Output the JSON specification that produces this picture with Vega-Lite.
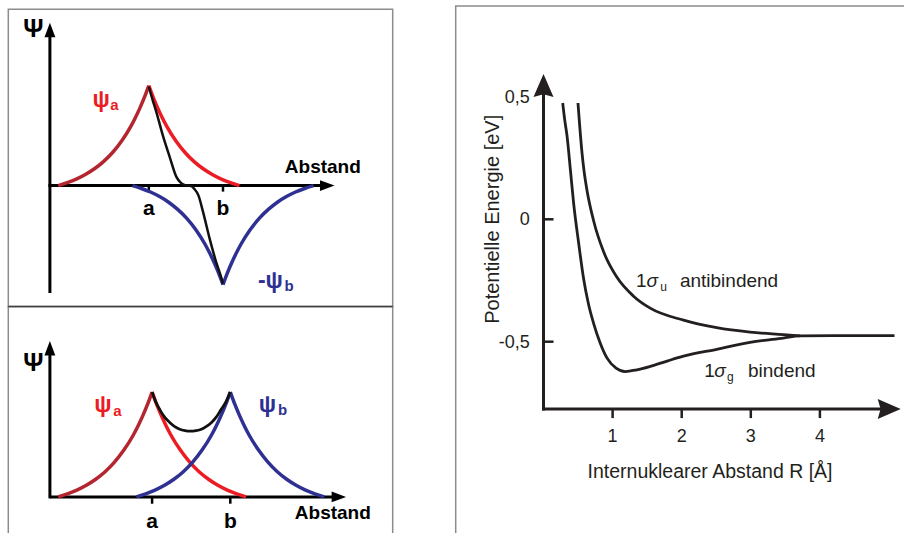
{
  "$schema": "https://vega.github.io/schema/vega-lite/v6.json",
  "padding": 0,
  "background": "white",
  "spacing": 20,
  "config": {"view": {"stroke": null}, "font": "Liberation Sans"},
  "resolve": {"scale": {"x": "independent", "y": "independent", "color": "independent"}},
  "datasets": {
    "top_psi": [
      {"curve": "ψa links", "x": 1, "y": 1}, {"curve": "ψa links", "x": 0.939, "y": 0.879}, {"curve": "ψa links", "x": 0.878, "y": 0.772}, {"curve": "ψa links", "x": 0.817, "y": 0.676}, {"curve": "ψa links", "x": 0.756, "y": 0.59}, {"curve": "ψa links", "x": 0.634, "y": 0.446}, {"curve": "ψa links", "x": 0.512, "y": 0.331}, {"curve": "ψa links", "x": 0.389, "y": 0.24}, {"curve": "ψa links", "x": 0.267, "y": 0.168}, {"curve": "ψa links", "x": 0.145, "y": 0.111}, {"curve": "ψa links", "x": 0.023, "y": 0.065}, {"curve": "ψa links", "x": -0.099, "y": 0.029}, {"curve": "ψa links", "x": -0.221, "y": 0},
      {"curve": "ψa rechts", "x": 1, "y": 1}, {"curve": "ψa rechts", "x": 1.061, "y": 0.879}, {"curve": "ψa rechts", "x": 1.122, "y": 0.772}, {"curve": "ψa rechts", "x": 1.183, "y": 0.676}, {"curve": "ψa rechts", "x": 1.244, "y": 0.59}, {"curve": "ψa rechts", "x": 1.366, "y": 0.446}, {"curve": "ψa rechts", "x": 1.488, "y": 0.331}, {"curve": "ψa rechts", "x": 1.611, "y": 0.24}, {"curve": "ψa rechts", "x": 1.733, "y": 0.168}, {"curve": "ψa rechts", "x": 1.855, "y": 0.111}, {"curve": "ψa rechts", "x": 1.977, "y": 0.065}, {"curve": "ψa rechts", "x": 2.099, "y": 0.029}, {"curve": "ψa rechts", "x": 2.221, "y": 0},
      {"curve": "ψb links", "x": 2, "y": -0.99}, {"curve": "ψb links", "x": 1.939, "y": -0.87}, {"curve": "ψb links", "x": 1.878, "y": -0.764}, {"curve": "ψb links", "x": 1.817, "y": -0.669}, {"curve": "ψb links", "x": 1.756, "y": -0.584}, {"curve": "ψb links", "x": 1.634, "y": -0.442}, {"curve": "ψb links", "x": 1.512, "y": -0.328}, {"curve": "ψb links", "x": 1.389, "y": -0.238}, {"curve": "ψb links", "x": 1.267, "y": -0.166}, {"curve": "ψb links", "x": 1.145, "y": -0.11}, {"curve": "ψb links", "x": 1.023, "y": -0.064}, {"curve": "ψb links", "x": 0.901, "y": -0.029}, {"curve": "ψb links", "x": 0.779, "y": 0},
      {"curve": "ψb rechts", "x": 2, "y": -0.99}, {"curve": "ψb rechts", "x": 2.061, "y": -0.87}, {"curve": "ψb rechts", "x": 2.122, "y": -0.764}, {"curve": "ψb rechts", "x": 2.183, "y": -0.669}, {"curve": "ψb rechts", "x": 2.244, "y": -0.584}, {"curve": "ψb rechts", "x": 2.366, "y": -0.442}, {"curve": "ψb rechts", "x": 2.488, "y": -0.328}, {"curve": "ψb rechts", "x": 2.611, "y": -0.238}, {"curve": "ψb rechts", "x": 2.733, "y": -0.166}, {"curve": "ψb rechts", "x": 2.855, "y": -0.11}, {"curve": "ψb rechts", "x": 2.977, "y": -0.064}, {"curve": "ψb rechts", "x": 3.099, "y": -0.029}, {"curve": "ψb rechts", "x": 3.221, "y": 0}
    ],
    "top_sum": [
      {"x": 1.0, "y": 0.99}, {"x": 1.05, "y": 0.86}, {"x": 1.1, "y": 0.74}, {"x": 1.19, "y": 0.5}, {"x": 1.28, "y": 0.29}, {"x": 1.37, "y": 0.09}, {"x": 1.43, "y": 0.03}, {"x": 1.47, "y": 0.01}, {"x": 1.52, "y": 0.0}, {"x": 1.57, "y": -0.005}, {"x": 1.61, "y": -0.03}, {"x": 1.67, "y": -0.1}, {"x": 1.73, "y": -0.26}, {"x": 1.82, "y": -0.53}, {"x": 1.91, "y": -0.77}, {"x": 1.96, "y": -0.88}, {"x": 2.0, "y": -0.98}
    ],
    "bot_psi": [
      {"curve": "ψa links", "x": 1, "y": 1}, {"curve": "ψa links", "x": 0.94, "y": 0.879}, {"curve": "ψa links", "x": 0.88, "y": 0.772}, {"curve": "ψa links", "x": 0.82, "y": 0.676}, {"curve": "ψa links", "x": 0.76, "y": 0.59}, {"curve": "ψa links", "x": 0.639, "y": 0.446}, {"curve": "ψa links", "x": 0.519, "y": 0.331}, {"curve": "ψa links", "x": 0.399, "y": 0.24}, {"curve": "ψa links", "x": 0.279, "y": 0.168}, {"curve": "ψa links", "x": 0.159, "y": 0.111}, {"curve": "ψa links", "x": 0.038, "y": 0.065}, {"curve": "ψa links", "x": -0.082, "y": 0.029}, {"curve": "ψa links", "x": -0.202, "y": 0},
      {"curve": "ψa rechts", "x": 1, "y": 1}, {"curve": "ψa rechts", "x": 1.06, "y": 0.879}, {"curve": "ψa rechts", "x": 1.12, "y": 0.772}, {"curve": "ψa rechts", "x": 1.18, "y": 0.676}, {"curve": "ψa rechts", "x": 1.24, "y": 0.59}, {"curve": "ψa rechts", "x": 1.361, "y": 0.446}, {"curve": "ψa rechts", "x": 1.481, "y": 0.331}, {"curve": "ψa rechts", "x": 1.601, "y": 0.24}, {"curve": "ψa rechts", "x": 1.721, "y": 0.168}, {"curve": "ψa rechts", "x": 1.841, "y": 0.111}, {"curve": "ψa rechts", "x": 1.962, "y": 0.065}, {"curve": "ψa rechts", "x": 2.082, "y": 0.029}, {"curve": "ψa rechts", "x": 2.202, "y": 0},
      {"curve": "ψb links", "x": 2, "y": 1}, {"curve": "ψb links", "x": 1.94, "y": 0.879}, {"curve": "ψb links", "x": 1.88, "y": 0.772}, {"curve": "ψb links", "x": 1.82, "y": 0.676}, {"curve": "ψb links", "x": 1.76, "y": 0.59}, {"curve": "ψb links", "x": 1.639, "y": 0.446}, {"curve": "ψb links", "x": 1.519, "y": 0.331}, {"curve": "ψb links", "x": 1.399, "y": 0.24}, {"curve": "ψb links", "x": 1.279, "y": 0.168}, {"curve": "ψb links", "x": 1.159, "y": 0.111}, {"curve": "ψb links", "x": 1.038, "y": 0.065}, {"curve": "ψb links", "x": 0.918, "y": 0.029}, {"curve": "ψb links", "x": 0.798, "y": 0},
      {"curve": "ψb rechts", "x": 2, "y": 1}, {"curve": "ψb rechts", "x": 2.06, "y": 0.879}, {"curve": "ψb rechts", "x": 2.12, "y": 0.772}, {"curve": "ψb rechts", "x": 2.18, "y": 0.676}, {"curve": "ψb rechts", "x": 2.24, "y": 0.59}, {"curve": "ψb rechts", "x": 2.361, "y": 0.446}, {"curve": "ψb rechts", "x": 2.481, "y": 0.331}, {"curve": "ψb rechts", "x": 2.601, "y": 0.24}, {"curve": "ψb rechts", "x": 2.721, "y": 0.168}, {"curve": "ψb rechts", "x": 2.841, "y": 0.111}, {"curve": "ψb rechts", "x": 2.962, "y": 0.065}, {"curve": "ψb rechts", "x": 3.082, "y": 0.029}, {"curve": "ψb rechts", "x": 3.202, "y": 0}
    ],
    "bot_sum": [
      {"x": 1.0, "y": 1.0}, {"x": 1.05, "y": 0.9}, {"x": 1.1, "y": 0.83}, {"x": 1.16, "y": 0.76}, {"x": 1.225, "y": 0.71}, {"x": 1.29, "y": 0.67}, {"x": 1.353, "y": 0.645}, {"x": 1.42, "y": 0.632}, {"x": 1.49, "y": 0.627}, {"x": 1.56, "y": 0.632}, {"x": 1.63, "y": 0.645}, {"x": 1.69, "y": 0.67}, {"x": 1.76, "y": 0.71}, {"x": 1.82, "y": 0.76}, {"x": 1.88, "y": 0.83}, {"x": 1.94, "y": 0.9}, {"x": 2.0, "y": 1.0}
    ],
    "ab": [{"pos": 1, "label": "a"}, {"pos": 2, "label": "b"}],
    "mo": [
      {"curve": "1σg", "x": 0.278, "y": 0.475}, {"curve": "1σg", "x": 0.31, "y": 0.4}, {"curve": "1σg", "x": 0.34, "y": 0.342}, {"curve": "1σg", "x": 0.39, "y": 0.2}, {"curve": "1σg", "x": 0.437, "y": 0.063}, {"curve": "1σg", "x": 0.51, "y": -0.1}, {"curve": "1σg", "x": 0.581, "y": -0.244}, {"curve": "1σg", "x": 0.65, "y": -0.345}, {"curve": "1σg", "x": 0.726, "y": -0.426}, {"curve": "1σg", "x": 0.82, "y": -0.505}, {"curve": "1σg", "x": 0.918, "y": -0.566}, {"curve": "1σg", "x": 1.05, "y": -0.608}, {"curve": "1σg", "x": 1.183, "y": -0.622}, {"curve": "1σg", "x": 1.35, "y": -0.615}, {"curve": "1σg", "x": 1.544, "y": -0.601}, {"curve": "1σg", "x": 1.8, "y": -0.578}, {"curve": "1σg", "x": 2.026, "y": -0.559}, {"curve": "1σg", "x": 2.507, "y": -0.531}, {"curve": "1σg", "x": 2.989, "y": -0.503}, {"curve": "1σg", "x": 3.47, "y": -0.485}, {"curve": "1σg", "x": 3.711, "y": -0.476}, {"curve": "1σg", "x": 4.2, "y": -0.475}, {"curve": "1σg", "x": 5.08, "y": -0.475},
      {"curve": "1σu", "x": 0.499, "y": 0.475}, {"curve": "1σu", "x": 0.527, "y": 0.37}, {"curve": "1σu", "x": 0.557, "y": 0.272}, {"curve": "1σu", "x": 0.59, "y": 0.19}, {"curve": "1σu", "x": 0.629, "y": 0.119}, {"curve": "1σu", "x": 0.726, "y": -0.007}, {"curve": "1σu", "x": 0.87, "y": -0.133}, {"curve": "1σu", "x": 1.063, "y": -0.237}, {"curve": "1σu", "x": 1.303, "y": -0.314}, {"curve": "1σu", "x": 1.544, "y": -0.363}, {"curve": "1σu", "x": 2.026, "y": -0.412}, {"curve": "1σu", "x": 2.507, "y": -0.443}, {"curve": "1σu", "x": 2.989, "y": -0.461}, {"curve": "1σu", "x": 3.47, "y": -0.471}, {"curve": "1σu", "x": 3.711, "y": -0.476}
    ],
    "xticks": [{"v": 1, "label": "1"}, {"v": 2, "label": "2"}, {"v": 3, "label": "3"}, {"v": 4, "label": "4"}],
    "yticks": [{"v": 0.5, "label": "0,5"}, {"v": 0, "label": "0"}, {"v": -0.5, "label": "-0,5"}]
  },
  "hconcat": [
    {
      "bounds": "flush",
      "spacing": 0,
      "resolve": {"scale": {"x": "independent", "y": "independent", "color": "independent"}},
      "vconcat": [
        {
          "width": 420, "height": 306,
          "data": {"values": [{}]},
          "layer": [
            {"mark": {"type": "rect", "filled": false, "color": "#8c8c8c", "strokeWidth": 1.5},
             "encoding": {"x": {"datum": -0.8935, "type": "quantitative", "scale": {"domain": [-1.00539, 4.65499], "nice": false, "zero": false}, "axis": null}, "x2": {"datum": 4.287},
                          "y": {"datum": 1.763, "type": "quantitative", "scale": {"domain": [-1.204, 1.856], "nice": false, "zero": false}, "axis": null}, "y2": {"datum": -1.209}}},
            {"mark": {"type": "rule", "color": "black", "strokeWidth": 3},
             "encoding": {"x": {"datum": -0.3329, "type": "quantitative", "scale": {"domain": [-1.00539, 4.65499], "nice": false, "zero": false}, "axis": null},
                          "y": {"datum": -1.073, "type": "quantitative", "scale": {"domain": [-1.204, 1.856], "nice": false, "zero": false}, "axis": null}, "y2": {"datum": 1.5565}}},
            {"mark": {"type": "rule", "color": "black", "strokeWidth": 3},
             "encoding": {"x": {"datum": -0.353, "type": "quantitative", "scale": {"domain": [-1.00539, 4.65499], "nice": false, "zero": false}, "axis": null}, "x2": {"datum": 3.405},
                          "y": {"datum": 0, "type": "quantitative", "scale": {"domain": [-1.204, 1.856], "nice": false, "zero": false}, "axis": null}}},
            {"mark": {"type": "point", "shape": "M0,-1L0.75,1L-0.75,1Z", "filled": true, "color": "black", "opacity": 1, "size": 210},
             "encoding": {"x": {"datum": -0.3329, "type": "quantitative", "scale": {"domain": [-1.00539, 4.65499], "nice": false, "zero": false}, "axis": null},
                          "y": {"datum": 1.5565, "type": "quantitative", "scale": {"domain": [-1.204, 1.856], "nice": false, "zero": false}, "axis": null}}},
            {"mark": {"type": "point", "shape": "M1,0L-1,-0.75L-1,0.75Z", "filled": true, "color": "black", "opacity": 1, "size": 210},
             "encoding": {"x": {"datum": 3.405, "type": "quantitative", "scale": {"domain": [-1.00539, 4.65499], "nice": false, "zero": false}, "axis": null},
                          "y": {"datum": 0, "type": "quantitative", "scale": {"domain": [-1.204, 1.856], "nice": false, "zero": false}, "axis": null}}},
            {"data": {"name": "ab"}, "mark": {"type": "rule", "color": "black", "strokeWidth": 2.5},
             "encoding": {"x": {"field": "pos", "type": "quantitative", "scale": {"domain": [-1.00539, 4.65499], "nice": false, "zero": false}, "axis": null},
                          "y": {"datum": 0, "type": "quantitative", "scale": {"domain": [-1.204, 1.856], "nice": false, "zero": false}, "axis": null}, "y2": {"datum": -0.06}}},
            {"data": {"name": "ab"}, "mark": {"type": "text", "fontWeight": "bold", "fontSize": 21, "color": "black", "align": "center", "baseline": "middle"},
             "encoding": {"x": {"field": "pos", "type": "quantitative", "scale": {"domain": [-1.00539, 4.65499], "nice": false, "zero": false}, "axis": null},
                          "y": {"datum": -0.234, "type": "quantitative", "scale": {"domain": [-1.204, 1.856], "nice": false, "zero": false}, "axis": null}, "text": {"field": "label"}}},
            {"data": {"name": "top_psi"}, "mark": {"type": "line", "strokeWidth": 3.5, "interpolate": "monotone"},
             "encoding": {"x": {"field": "x", "type": "quantitative", "scale": {"domain": [-1.00539, 4.65499], "nice": false, "zero": false}, "axis": null},
                          "y": {"field": "y", "type": "quantitative", "scale": {"domain": [-1.204, 1.856], "nice": false, "zero": false}, "axis": null},
                          "color": {"field": "curve", "type": "nominal", "scale": {"domain": ["ψa links", "ψa rechts", "ψb links", "ψb rechts"], "range": ["#b3262f", "#ec1c24", "#2e3192", "#2e3192"]}, "legend": null}}},
            {"data": {"name": "top_sum"}, "mark": {"type": "line", "strokeWidth": 2.5, "color": "#111111", "interpolate": "monotone"},
             "encoding": {"x": {"field": "x", "type": "quantitative", "scale": {"domain": [-1.00539, 4.65499], "nice": false, "zero": false}, "axis": null},
                          "y": {"field": "y", "type": "quantitative", "scale": {"domain": [-1.204, 1.856], "nice": false, "zero": false}, "axis": null}}},
            {"mark": {"type": "text", "text": "Ψ", "fontWeight": "bold", "fontSize": 25, "color": "black", "align": "center", "baseline": "middle"},
             "encoding": {"x": {"datum": -0.5566, "type": "quantitative", "scale": {"domain": [-1.00539, 4.65499], "nice": false, "zero": false}, "axis": null},
                          "y": {"datum": 1.564, "type": "quantitative", "scale": {"domain": [-1.204, 1.856], "nice": false, "zero": false}, "axis": null}}},
            {"mark": {"type": "text", "text": "Abstand", "fontWeight": "bold", "fontSize": 19, "color": "black", "align": "center", "baseline": "middle"},
             "encoding": {"x": {"datum": 3.345, "type": "quantitative", "scale": {"domain": [-1.00539, 4.65499], "nice": false, "zero": false}, "axis": null},
                          "y": {"datum": 0.187, "type": "quantitative", "scale": {"domain": [-1.204, 1.856], "nice": false, "zero": false}, "axis": null}}},
            {"mark": {"type": "text", "text": "ψ", "fontWeight": "bold", "fontSize": 23, "color": "#ec1c24", "align": "right", "baseline": "middle"},
             "encoding": {"x": {"datum": 0.4744, "type": "quantitative", "scale": {"domain": [-1.00539, 4.65499], "nice": false, "zero": false}, "axis": null},
                          "y": {"datum": 0.861, "type": "quantitative", "scale": {"domain": [-1.204, 1.856], "nice": false, "zero": false}, "axis": null}}},
            {"mark": {"type": "text", "text": "a", "fontWeight": "bold", "fontSize": 15, "color": "#ec1c24", "align": "left", "baseline": "middle"},
             "encoding": {"x": {"datum": 0.48, "type": "quantitative", "scale": {"domain": [-1.00539, 4.65499], "nice": false, "zero": false}, "axis": null},
                          "y": {"datum": 0.809, "type": "quantitative", "scale": {"domain": [-1.204, 1.856], "nice": false, "zero": false}, "axis": null}}},
            {"mark": {"type": "text", "text": "-ψ", "fontWeight": "bold", "fontSize": 23, "color": "#2e3192", "align": "right", "baseline": "middle"},
             "encoding": {"x": {"datum": 2.807, "type": "quantitative", "scale": {"domain": [-1.00539, 4.65499], "nice": false, "zero": false}, "axis": null},
                          "y": {"datum": -0.954, "type": "quantitative", "scale": {"domain": [-1.204, 1.856], "nice": false, "zero": false}, "axis": null}}},
            {"mark": {"type": "text", "text": "b", "fontWeight": "bold", "fontSize": 15, "color": "#2e3192", "align": "left", "baseline": "middle"},
             "encoding": {"x": {"datum": 2.829, "type": "quantitative", "scale": {"domain": [-1.00539, 4.65499], "nice": false, "zero": false}, "axis": null},
                          "y": {"datum": -1.005, "type": "quantitative", "scale": {"domain": [-1.204, 1.856], "nice": false, "zero": false}, "axis": null}}}
          ]
        },
        {
          "width": 420, "height": 227,
          "data": {"values": [{}]},
          "layer": [
            {"mark": {"type": "rect", "filled": false, "color": "#8c8c8c", "strokeWidth": 1.5, "clip": true},
             "encoding": {"x": {"datum": -0.8389, "type": "quantitative", "scale": {"domain": [-0.94501, 4.42583], "nice": false, "zero": false}, "axis": null}, "x2": {"datum": 4.0767},
                          "y": {"datum": 1.815, "type": "quantitative", "scale": {"domain": [-0.34414, 1.81983], "nice": false, "zero": false}, "axis": null}, "y2": {"datum": -1}}},
            {"mark": {"type": "rule", "color": "#404040", "strokeWidth": 1.5},
             "encoding": {"x": {"datum": -0.8389, "type": "quantitative", "scale": {"domain": [-0.94501, 4.42583], "nice": false, "zero": false}, "axis": null}, "x2": {"datum": 4.0767},
                          "y": {"datum": 1.815, "type": "quantitative", "scale": {"domain": [-0.34414, 1.81983], "nice": false, "zero": false}, "axis": null}}},
            {"mark": {"type": "rule", "color": "black", "strokeWidth": 3},
             "encoding": {"x": {"datum": -0.3069, "type": "quantitative", "scale": {"domain": [-0.94501, 4.42583], "nice": false, "zero": false}, "axis": null},
                          "y": {"datum": -0.014, "type": "quantitative", "scale": {"domain": [-0.34414, 1.81983], "nice": false, "zero": false}, "axis": null}, "y2": {"datum": 1.418}}},
            {"mark": {"type": "rule", "color": "black", "strokeWidth": 3},
             "encoding": {"x": {"datum": -0.3069, "type": "quantitative", "scale": {"domain": [-0.94501, 4.42583], "nice": false, "zero": false}, "axis": null}, "x2": {"datum": 3.388},
                          "y": {"datum": 0, "type": "quantitative", "scale": {"domain": [-0.34414, 1.81983], "nice": false, "zero": false}, "axis": null}}},
            {"mark": {"type": "point", "shape": "M0,-1L0.75,1L-0.75,1Z", "filled": true, "color": "black", "opacity": 1, "size": 210},
             "encoding": {"x": {"datum": -0.3069, "type": "quantitative", "scale": {"domain": [-0.94501, 4.42583], "nice": false, "zero": false}, "axis": null},
                          "y": {"datum": 1.418, "type": "quantitative", "scale": {"domain": [-0.34414, 1.81983], "nice": false, "zero": false}, "axis": null}}},
            {"mark": {"type": "point", "shape": "M1,0L-1,-0.75L-1,0.75Z", "filled": true, "color": "black", "opacity": 1, "size": 210},
             "encoding": {"x": {"datum": 3.388, "type": "quantitative", "scale": {"domain": [-0.94501, 4.42583], "nice": false, "zero": false}, "axis": null},
                          "y": {"datum": 0, "type": "quantitative", "scale": {"domain": [-0.34414, 1.81983], "nice": false, "zero": false}, "axis": null}}},
            {"data": {"name": "ab"}, "mark": {"type": "rule", "color": "black", "strokeWidth": 2.5},
             "encoding": {"x": {"field": "pos", "type": "quantitative", "scale": {"domain": [-0.94501, 4.42583], "nice": false, "zero": false}, "axis": null},
                          "y": {"datum": 0, "type": "quantitative", "scale": {"domain": [-0.34414, 1.81983], "nice": false, "zero": false}, "axis": null}, "y2": {"datum": -0.065}}},
            {"data": {"name": "ab"}, "mark": {"type": "text", "fontWeight": "bold", "fontSize": 21, "color": "black", "align": "center", "baseline": "middle", "clip": true},
             "encoding": {"x": {"field": "pos", "type": "quantitative", "scale": {"domain": [-0.94501, 4.42583], "nice": false, "zero": false}, "axis": null},
                          "y": {"datum": -0.244, "type": "quantitative", "scale": {"domain": [-0.34414, 1.81983], "nice": false, "zero": false}, "axis": null}, "text": {"field": "label"}}},
            {"data": {"name": "bot_psi"}, "mark": {"type": "line", "strokeWidth": 3.5, "interpolate": "monotone"},
             "encoding": {"x": {"field": "x", "type": "quantitative", "scale": {"domain": [-0.94501, 4.42583], "nice": false, "zero": false}, "axis": null},
                          "y": {"field": "y", "type": "quantitative", "scale": {"domain": [-0.34414, 1.81983], "nice": false, "zero": false}, "axis": null},
                          "color": {"field": "curve", "type": "nominal", "scale": {"domain": ["ψa links", "ψa rechts", "ψb links", "ψb rechts"], "range": ["#b3262f", "#ec1c24", "#2e3192", "#2e3192"]}, "legend": null}}},
            {"data": {"name": "bot_sum"}, "mark": {"type": "line", "strokeWidth": 2.8, "color": "#111111", "interpolate": "monotone"},
             "encoding": {"x": {"field": "x", "type": "quantitative", "scale": {"domain": [-0.94501, 4.42583], "nice": false, "zero": false}, "axis": null},
                          "y": {"field": "y", "type": "quantitative", "scale": {"domain": [-0.34414, 1.81983], "nice": false, "zero": false}, "axis": null}}},
            {"mark": {"type": "text", "text": "Ψ", "fontWeight": "bold", "fontSize": 25, "color": "black", "align": "center", "baseline": "middle"},
             "encoding": {"x": {"datum": -0.519, "type": "quantitative", "scale": {"domain": [-0.94501, 4.42583], "nice": false, "zero": false}, "axis": null},
                          "y": {"datum": 1.276, "type": "quantitative", "scale": {"domain": [-0.34414, 1.81983], "nice": false, "zero": false}, "axis": null}}},
            {"mark": {"type": "text", "text": "Abstand", "fontWeight": "bold", "fontSize": 19, "color": "black", "align": "center", "baseline": "middle"},
             "encoding": {"x": {"datum": 3.311, "type": "quantitative", "scale": {"domain": [-0.94501, 4.42583], "nice": false, "zero": false}, "axis": null},
                          "y": {"datum": -0.153, "type": "quantitative", "scale": {"domain": [-0.34414, 1.81983], "nice": false, "zero": false}, "axis": null}}},
            {"mark": {"type": "text", "text": "ψ", "fontWeight": "bold", "fontSize": 23, "color": "#ec1c24", "align": "right", "baseline": "middle"},
             "encoding": {"x": {"datum": 0.481, "type": "quantitative", "scale": {"domain": [-0.94501, 4.42583], "nice": false, "zero": false}, "axis": null},
                          "y": {"datum": 0.878, "type": "quantitative", "scale": {"domain": [-0.34414, 1.81983], "nice": false, "zero": false}, "axis": null}}},
            {"mark": {"type": "text", "text": "a", "fontWeight": "bold", "fontSize": 15, "color": "#ec1c24", "align": "left", "baseline": "middle"},
             "encoding": {"x": {"datum": 0.503, "type": "quantitative", "scale": {"domain": [-0.94501, 4.42583], "nice": false, "zero": false}, "axis": null},
                          "y": {"datum": 0.819, "type": "quantitative", "scale": {"domain": [-0.34414, 1.81983], "nice": false, "zero": false}, "axis": null}}},
            {"mark": {"type": "text", "text": "ψ", "fontWeight": "bold", "fontSize": 23, "color": "#2e3192", "align": "right", "baseline": "middle"},
             "encoding": {"x": {"datum": 2.587, "type": "quantitative", "scale": {"domain": [-0.94501, 4.42583], "nice": false, "zero": false}, "axis": null},
                          "y": {"datum": 0.878, "type": "quantitative", "scale": {"domain": [-0.34414, 1.81983], "nice": false, "zero": false}, "axis": null}}},
            {"mark": {"type": "text", "text": "b", "fontWeight": "bold", "fontSize": 15, "color": "#2e3192", "align": "left", "baseline": "middle"},
             "encoding": {"x": {"datum": 2.609, "type": "quantitative", "scale": {"domain": [-0.94501, 4.42583], "nice": false, "zero": false}, "axis": null},
                          "y": {"datum": 0.831, "type": "quantitative", "scale": {"domain": [-0.34414, 1.81983], "nice": false, "zero": false}, "axis": null}}}
          ]
        }
      ]
    },
    {
      "width": 464, "height": 533,
      "data": {"values": [{}]},
      "layer": [
        {"mark": {"type": "rect", "filled": false, "color": "#8c8c8c", "strokeWidth": 1.5, "clip": true},
         "encoding": {"x": {"datum": -1.2706, "type": "quantitative", "scale": {"domain": [-1.49783, 5.21708], "nice": false, "zero": false}, "axis": null}, "x2": {"datum": 6},
                      "y": {"datum": 0.8713, "type": "quantitative", "scale": {"domain": [-1.28145, 0.89583], "nice": false, "zero": false}, "axis": null}, "y2": {"datum": -2}}},
        {"mark": {"type": "rule", "color": "#231f20", "strokeWidth": 3},
         "encoding": {"x": {"datum": 0, "type": "quantitative", "scale": {"domain": [-1.49783, 5.21708], "nice": false, "zero": false}, "axis": null},
                      "y": {"datum": -0.781, "type": "quantitative", "scale": {"domain": [-1.28145, 0.89583], "nice": false, "zero": false}, "axis": null}, "y2": {"datum": 0.5462}}},
        {"mark": {"type": "rule", "color": "#231f20", "strokeWidth": 3},
         "encoding": {"x": {"datum": -0.0217, "type": "quantitative", "scale": {"domain": [-1.49783, 5.21708], "nice": false, "zero": false}, "axis": null}, "x2": {"datum": 5.003},
                      "y": {"datum": -0.775, "type": "quantitative", "scale": {"domain": [-1.28145, 0.89583], "nice": false, "zero": false}, "axis": null}}},
        {"mark": {"type": "point", "shape": "M0,-1L0.87,1L0,0.75L-0.87,1Z", "filled": true, "color": "#231f20", "opacity": 1, "size": 529},
         "encoding": {"x": {"datum": 0, "type": "quantitative", "scale": {"domain": [-1.49783, 5.21708], "nice": false, "zero": false}, "axis": null},
                      "y": {"datum": 0.5462, "type": "quantitative", "scale": {"domain": [-1.28145, 0.89583], "nice": false, "zero": false}, "axis": null}}},
        {"mark": {"type": "point", "shape": "M1,0L-1,-0.87L-0.75,0L-1,0.87Z", "filled": true, "color": "#231f20", "opacity": 1, "size": 529},
         "encoding": {"x": {"datum": 5.003, "type": "quantitative", "scale": {"domain": [-1.49783, 5.21708], "nice": false, "zero": false}, "axis": null},
                      "y": {"datum": -0.775, "type": "quantitative", "scale": {"domain": [-1.28145, 0.89583], "nice": false, "zero": false}, "axis": null}}},
        {"data": {"name": "xticks"}, "mark": {"type": "rule", "color": "#231f20", "strokeWidth": 2.5},
         "encoding": {"x": {"field": "v", "type": "quantitative", "scale": {"domain": [-1.49783, 5.21708], "nice": false, "zero": false}, "axis": null},
                      "y": {"datum": -0.775, "type": "quantitative", "scale": {"domain": [-1.28145, 0.89583], "nice": false, "zero": false}, "axis": null}, "y2": {"datum": -0.812}}},
        {"data": {"name": "xticks"}, "mark": {"type": "text", "fontSize": 18, "color": "#231f20", "align": "center", "baseline": "middle"},
         "encoding": {"x": {"field": "v", "type": "quantitative", "scale": {"domain": [-1.49783, 5.21708], "nice": false, "zero": false}, "axis": null},
                      "y": {"datum": -0.888, "type": "quantitative", "scale": {"domain": [-1.28145, 0.89583], "nice": false, "zero": false}, "axis": null}, "text": {"field": "label"}}},
        {"data": {"name": "yticks"}, "transform": [{"filter": "datum.v < 0.4"}], "mark": {"type": "rule", "color": "#231f20", "strokeWidth": 2.5},
         "encoding": {"x": {"datum": 0, "type": "quantitative", "scale": {"domain": [-1.49783, 5.21708], "nice": false, "zero": false}, "axis": null}, "x2": {"datum": 0.145},
                      "y": {"field": "v", "type": "quantitative", "scale": {"domain": [-1.28145, 0.89583], "nice": false, "zero": false}, "axis": null}}},
        {"data": {"name": "yticks"}, "mark": {"type": "text", "fontSize": 18, "color": "#231f20", "align": "right", "baseline": "middle", "dy": 1},
         "encoding": {"x": {"datum": -0.2, "type": "quantitative", "scale": {"domain": [-1.49783, 5.21708], "nice": false, "zero": false}, "axis": null},
                      "y": {"field": "v", "type": "quantitative", "scale": {"domain": [-1.28145, 0.89583], "nice": false, "zero": false}, "axis": null}, "text": {"field": "label"}}},
        {"data": {"name": "mo"}, "mark": {"type": "line", "strokeWidth": 2.8, "color": "#231f20", "interpolate": "monotone"},
         "encoding": {"x": {"field": "x", "type": "quantitative", "scale": {"domain": [-1.49783, 5.21708], "nice": false, "zero": false}, "axis": null},
                      "y": {"field": "y", "type": "quantitative", "scale": {"domain": [-1.28145, 0.89583], "nice": false, "zero": false}, "axis": null},
                      "detail": {"field": "curve", "type": "nominal"}}},
        {"mark": {"type": "text", "text": "Internuklearer Abstand R [Å]", "fontSize": 19.5, "color": "#231f20", "align": "center", "baseline": "middle"},
         "encoding": {"x": {"datum": 2.41, "type": "quantitative", "scale": {"domain": [-1.49783, 5.21708], "nice": false, "zero": false}, "axis": null},
                      "y": {"datum": -1.032, "type": "quantitative", "scale": {"domain": [-1.28145, 0.89583], "nice": false, "zero": false}, "axis": null}}},
        {"mark": {"type": "text", "text": "Potentielle Energie [eV]", "fontSize": 20, "angle": 270, "color": "#231f20", "align": "center", "baseline": "middle"},
         "encoding": {"x": {"datum": -0.731, "type": "quantitative", "scale": {"domain": [-1.49783, 5.21708], "nice": false, "zero": false}, "axis": null},
                      "y": {"datum": 0.0, "type": "quantitative", "scale": {"domain": [-1.28145, 0.89583], "nice": false, "zero": false}, "axis": null}}},
        {"mark": {"type": "text", "text": "1", "fontSize": 19, "color": "#231f20", "align": "left", "baseline": "middle"},
         "encoding": {"x": {"datum": 1.34, "type": "quantitative", "scale": {"domain": [-1.49783, 5.21708], "nice": false, "zero": false}, "axis": null},
                      "y": {"datum": -0.251, "type": "quantitative", "scale": {"domain": [-1.28145, 0.89583], "nice": false, "zero": false}, "axis": null}}},
        {"mark": {"type": "text", "text": "σ", "fontSize": 19, "fontStyle": "italic", "color": "#231f20", "align": "left", "baseline": "middle"},
         "encoding": {"x": {"datum": 1.49, "type": "quantitative", "scale": {"domain": [-1.49783, 5.21708], "nice": false, "zero": false}, "axis": null},
                      "y": {"datum": -0.251, "type": "quantitative", "scale": {"domain": [-1.28145, 0.89583], "nice": false, "zero": false}, "axis": null}}},
        {"mark": {"type": "text", "text": "u", "fontSize": 12, "color": "#231f20", "align": "left", "baseline": "middle"},
         "encoding": {"x": {"datum": 1.69, "type": "quantitative", "scale": {"domain": [-1.49783, 5.21708], "nice": false, "zero": false}, "axis": null},
                      "y": {"datum": -0.277, "type": "quantitative", "scale": {"domain": [-1.28145, 0.89583], "nice": false, "zero": false}, "axis": null}}},
        {"mark": {"type": "text", "text": "antibindend", "fontSize": 19, "color": "#231f20", "align": "left", "baseline": "middle"},
         "encoding": {"x": {"datum": 1.974, "type": "quantitative", "scale": {"domain": [-1.49783, 5.21708], "nice": false, "zero": false}, "axis": null},
                      "y": {"datum": -0.251, "type": "quantitative", "scale": {"domain": [-1.28145, 0.89583], "nice": false, "zero": false}, "axis": null}}},
        {"mark": {"type": "text", "text": "1", "fontSize": 19, "color": "#231f20", "align": "left", "baseline": "middle"},
         "encoding": {"x": {"datum": 2.326, "type": "quantitative", "scale": {"domain": [-1.49783, 5.21708], "nice": false, "zero": false}, "axis": null},
                      "y": {"datum": -0.618, "type": "quantitative", "scale": {"domain": [-1.28145, 0.89583], "nice": false, "zero": false}, "axis": null}}},
        {"mark": {"type": "text", "text": "σ", "fontSize": 19, "fontStyle": "italic", "color": "#231f20", "align": "left", "baseline": "middle"},
         "encoding": {"x": {"datum": 2.47, "type": "quantitative", "scale": {"domain": [-1.49783, 5.21708], "nice": false, "zero": false}, "axis": null},
                      "y": {"datum": -0.618, "type": "quantitative", "scale": {"domain": [-1.28145, 0.89583], "nice": false, "zero": false}, "axis": null}}},
        {"mark": {"type": "text", "text": "g", "fontSize": 12, "color": "#231f20", "align": "left", "baseline": "middle"},
         "encoding": {"x": {"datum": 2.655, "type": "quantitative", "scale": {"domain": [-1.49783, 5.21708], "nice": false, "zero": false}, "axis": null},
                      "y": {"datum": -0.645, "type": "quantitative", "scale": {"domain": [-1.28145, 0.89583], "nice": false, "zero": false}, "axis": null}}},
        {"mark": {"type": "text", "text": "bindend", "fontSize": 19, "color": "#231f20", "align": "left", "baseline": "middle"},
         "encoding": {"x": {"datum": 2.959, "type": "quantitative", "scale": {"domain": [-1.49783, 5.21708], "nice": false, "zero": false}, "axis": null},
                      "y": {"datum": -0.618, "type": "quantitative", "scale": {"domain": [-1.28145, 0.89583], "nice": false, "zero": false}, "axis": null}}}
      ]
    }
  ]
}
